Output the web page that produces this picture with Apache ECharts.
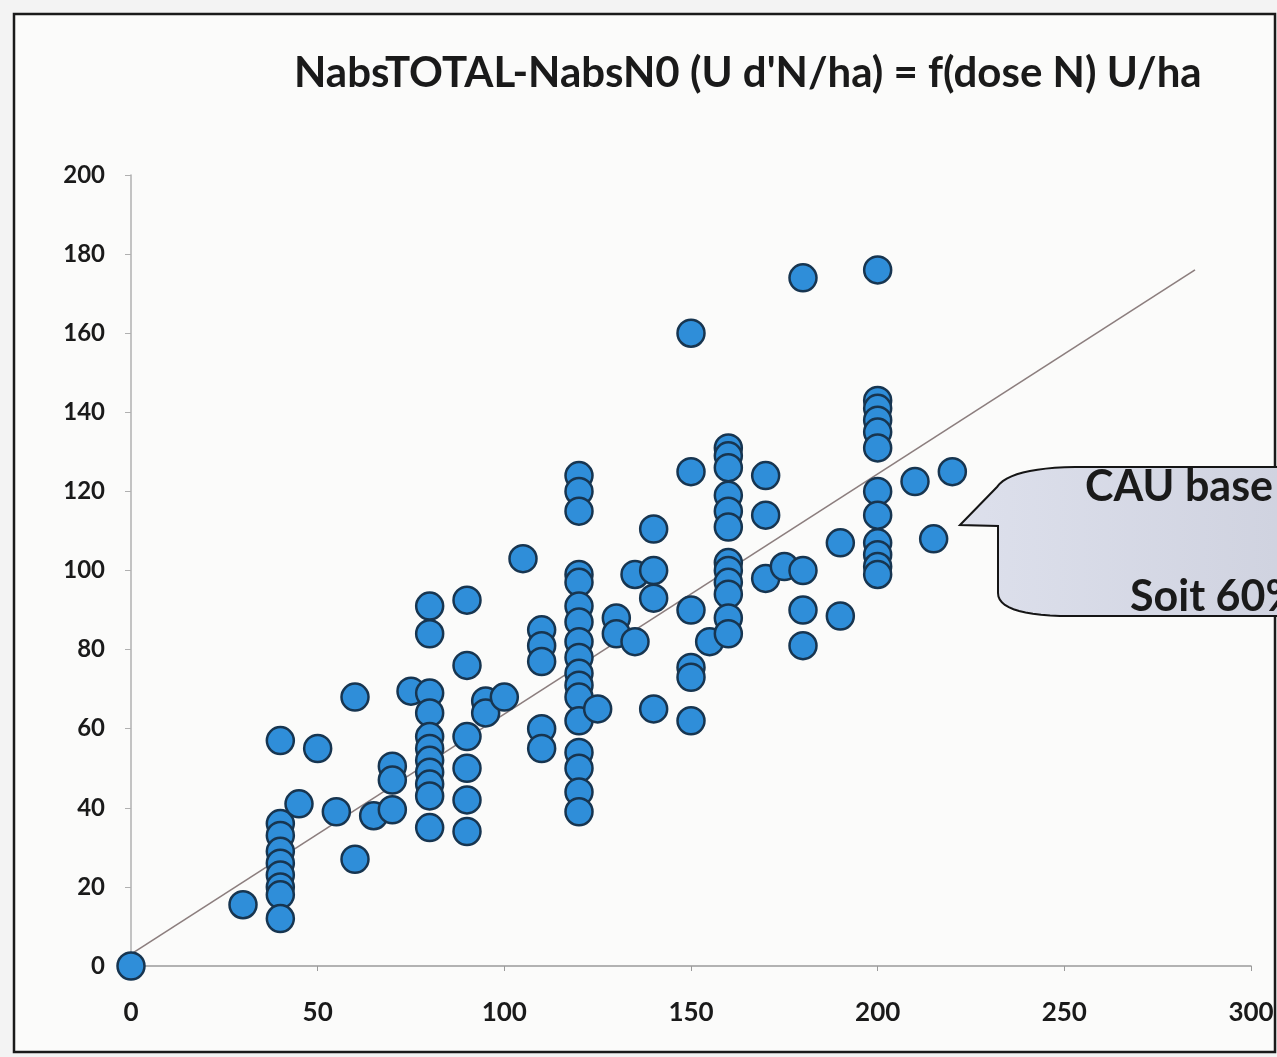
<!DOCTYPE html>
<html>
<head>
<meta charset="utf-8">
<script src="https://cdn.jsdelivr.net/npm/echarts@6/dist/echarts.min.js"></script>
<style>
html,body{margin:0;padding:0;background:#f3f3f3;}
#chart{width:1277px;height:1057px;}
</style>
</head>
<body>
<div id="chart"></div>
<script>
// Dose N (U/ha) and, for each dose, the NabsTOTAL-NabsN0 values
const doses = [0, 30, 40, 45, 50, 55, 60, 65, 70, 75, 80, 90, 95, 100, 105, 110, 120, 125, 130, 135, 140, 150, 155, 160, 170, 175, 180, 190, 200, 210, 215, 220];
const uptakeByDose = [
  [0],
  [15.5],
  [57, 36, 33, 29, 26, 23, 20, 18, 12],
  [41],
  [55],
  [39],
  [68, 27],
  [38],
  [50.5, 47, 39.5],
  [69.5],
  [91, 84, 69, 64, 58, 55, 52, 49, 46, 43, 35],
  [92.5, 76, 58, 50, 42, 34],
  [67, 64],
  [68],
  [103],
  [85, 81, 77, 60, 55],
  [124, 120, 115, 99, 97, 91, 87, 82, 78, 74, 71, 68, 62, 54, 50, 44, 39],
  [65],
  [88, 84],
  [99, 82],
  [110.5, 100, 93, 65],
  [160, 125, 90, 75.5, 73, 62],
  [82],
  [131, 129, 126, 119, 115, 111, 102, 100, 97, 94, 88, 84],
  [124, 114, 98],
  [101],
  [174, 100, 90, 81],
  [107, 88.5],
  [176, 143, 141, 138, 135, 131, 120, 114, 107, 104, 101, 99],
  [122.5],
  [108],
  [125]
];
// Trend line end points
const trendX = [0, 285];
const trendY = [3, 176];
// Axis settings
const xTicks = {min: 0, max: 300, interval: 50};
const yTicks = {min: 0, max: 200, interval: 20};
const titleText = "NabsTOTAL-NabsN0 (U d'N/ha) = f(dose N) U/ha";
const calloutLines = ["CAU base", "Soit 60%"];

const points = [];
doses.forEach((d, i) => uptakeByDose[i].forEach(v => points.push([d, v])));
const trend = trendX.map((x, i) => [x, trendY[i]]);

// callout outline (annotation shape, pixel space)
function quad(p0, c, p1, n) {
  const out = [];
  for (let k = 1; k <= n; k++) {
    const t = k / n, u = 1 - t;
    out.push([u*u*p0[0] + 2*u*t*c[0] + t*t*p1[0], u*u*p0[1] + 2*u*t*c[1] + t*t*p1[1]]);
  }
  return out;
}
const callout = [[960, 525], [997, 487]]
  .concat(quad([997, 487], [1010, 468], [1075, 467], 12))
  .concat([[1300, 467], [1300, 616], [1060, 616]])
  .concat(quad([1060, 616], [998, 614], [998, 593], 12))
  .concat([[998, 526]]);

const font = 'Lato, "Open Sans", sans-serif';
const chart = echarts.init(document.getElementById('chart'), null, {renderer: 'canvas'});
chart.setOption({
  animation: false,
  backgroundColor: '#f3f3f3',
  title: {
    text: titleText,
    left: 289, top: 47,
    textStyle: {fontFamily: font, fontWeight: 'bold', fontSize: 42, color: '#1a1a1a'}
  },
  grid: {left: 131, right: 26, top: 175, bottom: 91, containLabel: false},
  xAxis: {
    type: 'value', min: xTicks.min, max: xTicks.max, interval: xTicks.interval,
    splitLine: {show: false},
    axisLine: {lineStyle: {color: '#9a9a9a', width: 1.5}},
    axisTick: {show: true, length: 5, lineStyle: {color: '#9a9a9a'}},
    axisLabel: {fontFamily: font, fontWeight: 'bold', fontSize: 26, color: '#1a1a1a', margin: 34}
  },
  yAxis: {
    type: 'value', min: yTicks.min, max: yTicks.max, interval: yTicks.interval,
    splitLine: {show: false},
    axisLine: {show: true, lineStyle: {color: '#b0b0b0', width: 1.5}},
    axisTick: {show: true, length: 6, lineStyle: {color: '#b0b0b0'}},
    axisLabel: {fontFamily: font, fontWeight: 'bold', fontSize: 24, color: '#1a1a1a', margin: 26}
  },
  graphic: [
    {
      type: 'rect', z: -10, silent: true,
      shape: {x: 14, y: 14, width: 1261, height: 1038},
      style: {fill: '#fbfbfa', stroke: '#1a1a1a', lineWidth: 2.5}
    },
    {
      type: 'polygon', z: 100, silent: true,
      shape: {points: callout},
      style: {
        fill: {type: 'linear', x: 0, y: 0, x2: 1, y2: 0, colorStops: [
          {offset: 0, color: '#dde0ec'}, {offset: 1, color: '#cfd2df'}
        ]},
        stroke: '#151515', lineWidth: 2
      }
    },
    {
      type: 'text', z: 101, silent: true, left: 1085, top: 466,
      style: {text: calloutLines[0], font: 'bold 43px ' + font, fill: '#1a1a1a'}
    },
    {
      type: 'text', z: 101, silent: true, left: 1130, top: 576,
      style: {text: calloutLines[1], font: 'bold 43px ' + font, fill: '#1a1a1a'}
    }
  ],
  series: [
    {
      type: 'line', data: trend, symbol: 'none', z: 1,
      lineStyle: {color: '#8c7e7e', width: 1.6}
    },
    {
      type: 'scatter', data: points, symbol: 'circle', symbolSize: 27, z: 3,
      itemStyle: {color: '#2f8ed9', borderColor: '#173550', borderWidth: 2.5, opacity: 1}
    }
  ]
});
</script>
</body>
</html>
